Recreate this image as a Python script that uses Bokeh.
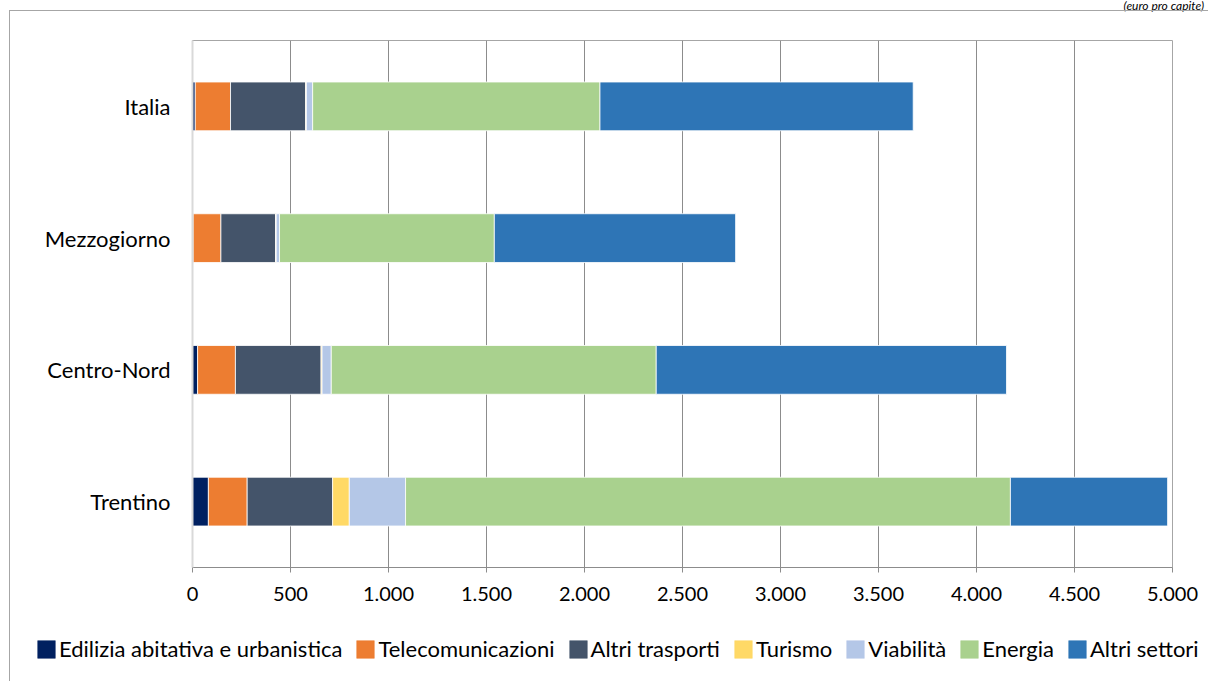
from bokeh.plotting import figure
from bokeh.models import (FactorRange, Range1d, FixedTicker, Legend, LegendItem,
                          ColumnDataSource, Div)
from bokeh.layouts import column
from bokeh.embed import file_html
from bokeh.resources import INLINE

regions = ["Italia", "Mezzogiorno", "Centro-Nord", "Trentino"]
series = ["Edilizia abitativa e urbanistica", "Telecomunicazioni", "Altri trasporti",
          "Turismo", "Viabilità", "Energia", "Altri settori"]
edilizia = [14, 3, 26, 81]
telecom = [180, 142, 193, 198]
altri_trasporti = [383, 279, 437, 436]
turismo = [4, 3, 5, 85]
viabilita = [32, 17, 47, 287]
energia = [1466, 1096, 1658, 3086]
altri_settori = [1598, 1231, 1787, 802]
colors = ["#002060", "#ED7D31", "#44546A", "#FFD966", "#B4C7E7", "#A9D18E", "#2E75B6"]
tick_values = [0, 500, 1000, 1500, 2000, 2500, 3000, 3500, 4000, 4500, 5000]
tick_labels = ["0", "500", "1.000", "1.500", "2.000", "2.500", "3.000", "3.500",
               "4.000", "4.500", "5.000"]
unit_note = "(euro pro capite)"

keys = ["s0", "s1", "s2", "s3", "s4", "s5", "s6"]
src = ColumnDataSource(dict(region=regions, s0=edilizia, s1=telecom, s2=altri_trasporti,
                            s3=turismo, s4=viabilita, s5=energia, s6=altri_settori))

FONT = "Lato"
BOX = "1px solid #A6A6A6"

# main chart
p = figure(width=1199, height=600, output_backend="svg", toolbar_location=None,
           y_range=FactorRange(factors=regions[::-1]), x_range=Range1d(0, 5000),
           min_border_left=182, min_border_right=37, min_border_top=29,
           min_border_bottom=44, margin=(0, 0, 0, 9),
           styles={"border-left": BOX, "border-top": BOX})

renderers = p.hbar_stack(keys, y="region", height=0.37, color=colors, source=src,
                         line_color="white", line_width=0.8)

p.xaxis.ticker = FixedTicker(ticks=tick_values)
p.xaxis.major_label_overrides = {v: l for v, l in zip(tick_values, tick_labels)}
p.xaxis.axis_line_color = "#8C8C8C"
p.xaxis.major_tick_line_color = "#8C8C8C"
p.xaxis.major_tick_in = 0
p.xaxis.major_tick_out = 5
p.xaxis.minor_tick_line_color = None
p.xaxis.major_label_standoff = 14
p.xaxis.major_label_text_font = FONT
p.xaxis.major_label_text_font_size = "20px"
p.xaxis.major_label_text_color = "#000000"

p.yaxis.axis_line_color = "#D9D9D9"
p.yaxis.axis_line_width = 2
p.yaxis.major_tick_line_color = None
p.yaxis.minor_tick_line_color = None
p.yaxis.major_label_standoff = 16
p.yaxis.major_label_text_font = FONT
p.yaxis.major_label_text_font_size = "22px"
p.yaxis.major_label_text_color = "#000000"

p.xgrid.grid_line_color = "#8C8C8C"
p.xgrid.grid_line_width = 1
p.ygrid.grid_line_color = None
p.outline_line_color = "#A6A6A6"
p.background_fill_color = "white"
p.border_fill_color = "white"

# legend strip (same series, drawn out of view so only the legend shows)
lp = figure(width=1199, height=71, output_backend="svg", toolbar_location=None,
            y_range=FactorRange(factors=regions[::-1]), x_range=Range1d(-10, -5),
            x_axis_type=None, y_axis_type=None,
            min_border_left=0, min_border_right=0, min_border_top=0, min_border_bottom=0)
lp.xgrid.grid_line_color = None
lp.ygrid.grid_line_color = None
lp.outline_line_color = None
lp_renderers = lp.hbar_stack(keys, y="region", height=0.37, color=colors, source=src,
                             line_color=colors, line_width=0.5)

items = [LegendItem(label=s, renderers=[r]) for s, r in zip(series, lp_renderers)]
legend = Legend(items=items, orientation="horizontal", location=(25, 19),
                glyph_width=22, glyph_height=22, label_standoff=2, spacing=12,
                padding=0, margin=0, border_line_color=None, background_fill_alpha=0,
                label_text_font=FONT, label_text_font_size="22px",
                label_text_color="#000000", label_height=20)
lp.add_layout(legend, "center")

note = Div(text=unit_note, width=1208, height=10, margin=0,
           styles={"text-align": "right", "font-style": "italic", "font-family": "Lato",
                   "font-size": "12px", "line-height": "11px", "color": "#000000",
                   "overflow": "visible", "padding-right": "4px"})

legend_box = column(lp, margin=(0, 0, 0, 9), styles={"border-left": BOX})
layout = column(note, column(p), legend_box, spacing=0)

open("out.html", "w").write(file_html(layout, INLINE))
